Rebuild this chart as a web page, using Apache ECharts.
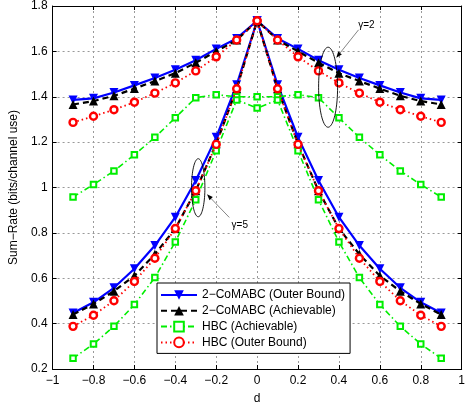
<!DOCTYPE html>
<html>
<head>
<meta charset="utf-8">
<script src="https://cdn.jsdelivr.net/npm/echarts@6/dist/echarts.min.js"></script>
<style>
html,body{margin:0;padding:0;background:#fff;}
#c{width:468px;height:410px;}
</style>
</head>
<body>
<div id="c"></div>
<script>
// ---- data ----
var dValues = [-0.9,-0.8,-0.7,-0.6,-0.5,-0.4,-0.3,-0.2,-0.1,0,0.1,0.2,0.3,0.4,0.5,0.6,0.7,0.8,0.9];
var xTicks = [-1,-0.8,-0.6,-0.4,-0.2,0,0.2,0.4,0.6,0.8,1];
var yTicks = [0.2,0.4,0.6,0.8,1,1.2,1.4,1.6,1.8];
var seriesNames = ['2\u2212CoMABC (Outer Bound)','2\u2212CoMABC (Achievable)','HBC (Achievable)','HBC (Outer Bound)'];

// gamma = 2
var coOuterG2 = [1.386,1.393,1.419,1.450,1.483,1.519,1.561,1.611,1.657,1.735,1.657,1.611,1.561,1.519,1.483,1.450,1.419,1.393,1.386];
var coAchG2   = [1.366,1.381,1.404,1.436,1.469,1.504,1.550,1.600,1.650,1.735,1.650,1.600,1.550,1.504,1.469,1.436,1.404,1.381,1.366];
var hbcAchG2  = [0.958,1.013,1.073,1.144,1.221,1.307,1.396,1.409,1.400,1.400,1.400,1.409,1.396,1.307,1.221,1.144,1.073,1.013,0.958];
var hbcOutG2  = [1.287,1.314,1.343,1.376,1.416,1.461,1.514,1.576,1.650,1.735,1.650,1.576,1.514,1.461,1.416,1.376,1.343,1.314,1.287];
// gamma = 5
var coOuterG5 = [0.447,0.494,0.558,0.642,0.744,0.869,1.031,1.221,1.453,1.735,1.453,1.221,1.031,0.869,0.744,0.642,0.558,0.494,0.447];
var coAchG5   = [0.440,0.487,0.543,0.611,0.706,0.819,0.986,1.193,1.435,1.735,1.435,1.193,0.986,0.819,0.706,0.611,0.543,0.487,0.440];
var hbcAchG5  = [0.247,0.310,0.388,0.484,0.603,0.760,0.946,1.162,1.386,1.350,1.386,1.162,0.946,0.760,0.603,0.484,0.388,0.310,0.247];
var hbcOutG5  = [0.388,0.437,0.501,0.586,0.688,0.819,0.986,1.190,1.435,1.735,1.435,1.190,0.986,0.819,0.688,0.586,0.501,0.437,0.388];

// annotation anchors (data coordinates)
var annG2 = {ellipse:[0.347,1.442], arrowFrom:[0.496,1.695], arrowTo:[0.387,1.572], text:[0.494,1.716], label:'\u03b3=2', rx:9.5, ry:40};
var annG5 = {ellipse:[-0.288,0.999], arrowFrom:[-0.136,0.868], arrowTo:[-0.245,0.970], text:[-0.125,0.833], label:'\u03b3=5', rx:6.7, ry:29};

var FONT = 'Liberation Sans, Arial, Helvetica, sans-serif';
function fmt(v){ var s = String(+v.toFixed(1)); return s.replace('-', '\u2212'); }
function pairs(vals){ return dValues.map(function(x,i){ return [x, vals[i]]; }); }

var styles = [
  {color:'#0000ff', line:{width:2.2, type:'solid'}, symbol:'triangle', rot:180, size:9, item:{color:'#0000ff'}},
  {color:'#000000', line:{width:2.2, type:[6,4]}, symbol:'triangle', rot:0, size:9, item:{color:'#000000'}},
  {color:'#00ee00', line:{width:1.6, type:[6,3,1.5,3]}, symbol:'rect', rot:0, size:5.5, item:{color:'#ffffff', borderColor:'#00ee00', borderWidth:2}},
  {color:'#ff0000', line:{width:1.8, type:[1.5,3]}, symbol:'circle', rot:0, size:7, item:{color:'#ffffff', borderColor:'#ff0000', borderWidth:2.4}}
];
var g2 = [coOuterG2, coAchG2, hbcAchG2, hbcOutG2];
var g5 = [coOuterG5, coAchG5, hbcAchG5, hbcOutG5];

var series = [];
[g2, g5].forEach(function(group){
  group.forEach(function(vals, k){
    var st = styles[k];
    series.push({
      type:'line', name:seriesNames[k], data:pairs(vals),
      xAxisIndex:0, yAxisIndex:0,
      symbol:st.symbol, symbolSize:st.size, symbolRotate:st.rot, showSymbol:true,
      color:st.color,
      lineStyle:{color:st.color, width:st.line.width, type:st.line.type},
      itemStyle:Object.assign({}, st.item, {opacity:1}),
      z: 2 + k,
      animation:false, silent:true
    });
  });
});

var axisCommon = {
  type:'value',
  axisLine:{show:true, onZero:false, lineStyle:{color:'#000', width:1}},
  axisTick:{show:true, inside:true, length:4, lineStyle:{color:'#000'}}
};

var chart = echarts.init(document.getElementById('c'), null, {renderer:'canvas'});
chart.setOption({
  animation:false,
  backgroundColor:'#fff',
  grid:{left:37.3, right:1.5, top:3.5, bottom:29, show:false},
  xAxis:[
    Object.assign({}, axisCommon, {
      position:'bottom', min:xTicks[0], max:xTicks[xTicks.length-1], interval:0.2,
      axisLabel:{formatter:fmt, color:'#000', fontSize:12, fontFamily:FONT, margin:6},
      splitLine:{show:true, lineStyle:{color:'#999', type:[2,3], width:1}},
      name:'d', nameLocation:'middle', nameGap:24,
      nameTextStyle:{color:'#000', fontSize:12, fontFamily:FONT}
    }),
    Object.assign({}, axisCommon, {
      position:'top', min:xTicks[0], max:xTicks[xTicks.length-1], interval:0.2,
      axisLabel:{show:false}, splitLine:{show:false}
    })
  ],
  yAxis:[
    Object.assign({}, axisCommon, {
      position:'left', min:yTicks[0], max:yTicks[yTicks.length-1], interval:0.2,
      axisLabel:{formatter:fmt, color:'#000', fontSize:12, fontFamily:FONT, margin:5},
      splitLine:{show:true, lineStyle:{color:'#999', type:[2,3], width:1}},
      name:'Sum\u2212Rate (bits/channel use)', nameLocation:'middle', nameGap:25, nameRotate:90,
      nameTextStyle:{color:'#000', fontSize:12, fontFamily:FONT}
    }),
    Object.assign({}, axisCommon, {
      position:'right', min:yTicks[0], max:yTicks[yTicks.length-1], interval:0.2,
      axisLabel:{show:false}, splitLine:{show:false}
    })
  ],
  legend:{
    show:true, data:seriesNames, orient:'vertical', left:157, top:283,
    itemWidth:36, itemHeight:12, itemGap:3.8,
    padding:[6,5,5,3],
    borderColor:'#000', borderWidth:1, backgroundColor:'#fff',
    textStyle:{color:'#000', fontSize:12, fontFamily:FONT},
    selectedMode:false
  },
  series:series
});

// ---- annotations positioned through the axes ----
function px(p){ return chart.convertToPixel({xAxisIndex:0, yAxisIndex:0}, p); }
function annElements(a){
  var c = px(a.ellipse), pts = [];
  for (var i=0;i<72;i++){ var t=i/72*Math.PI*2; pts.push([c[0]+a.rx*Math.cos(t), c[1]+a.ry*Math.sin(t)]); }
  var f = px(a.arrowFrom), to = px(a.arrowTo), tp = px(a.text);
  var ang = Math.atan2(to[1]-f[1], to[0]-f[0]), L=6, W=2.3;
  var bx = to[0]-L*Math.cos(ang), by = to[1]-L*Math.sin(ang);
  var head = [[to[0],to[1]],[bx+W*Math.sin(ang), by-W*Math.cos(ang)],[bx-W*Math.sin(ang), by+W*Math.cos(ang)]];
  return [
    {type:'polygon', shape:{points:pts}, style:{fill:null, stroke:'#000', lineWidth:0.9}, z:100},
    {type:'line', shape:{x1:f[0], y1:f[1], x2:bx, y2:by}, style:{stroke:'#666', lineWidth:0.8}, z:100},
    {type:'polygon', shape:{points:head}, style:{fill:'#000'}, z:100},
    {type:'text', x:tp[0], y:tp[1], style:{text:a.label, fill:'#000', font:'10px '+FONT, textVerticalAlign:'middle', textAlign:'left'}, z:100}
  ];
}
chart.setOption({graphic:{elements:annElements(annG2).concat(annElements(annG5))}});
</script>
</body>
</html>
